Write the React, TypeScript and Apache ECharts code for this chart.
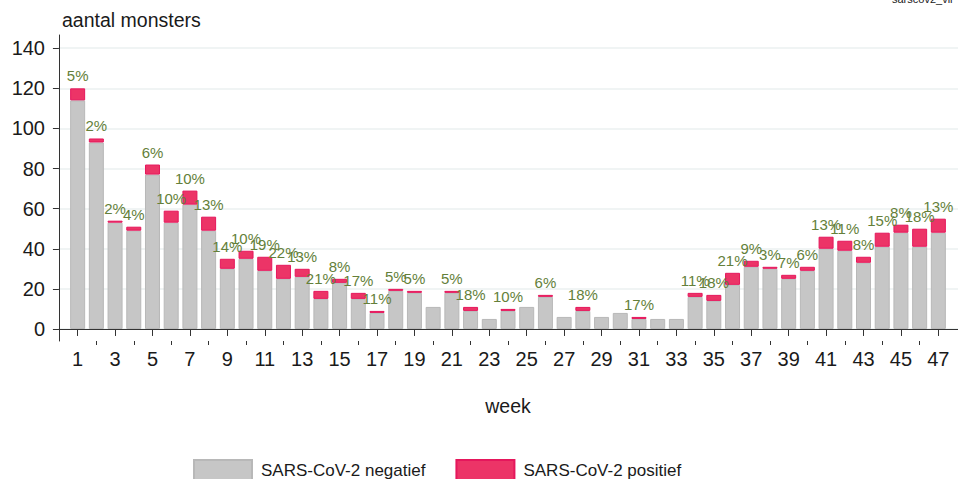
import React, { useEffect, useRef } from "react";
import * as echarts from "echarts";

const weeks = [1,2,3,4,5,6,7,8,9,10,11,12,13,14,15,16,17,18,19,20,21,22,23,24,25,26,27,28,29,30,31,32,33,34,35,36,37,38,39,40,41,42,43,44,45,46,47];
const negatief = [114,93,53,49,77,53,62,49,30,35,29,25,26,15,23,15,8,19,18,11,18,9,5,9,11,16,6,9,6,8,5,5,5,16,14,22,31,30,25,29,40,39,33,41,48,41,48];
const positief = [6,2,1,2,5,6,7,7,5,4,7,7,4,4,2,3,1,1,1,0,1,2,0,1,0,1,0,2,0,0,1,0,0,2,3,6,3,1,2,2,6,5,3,7,4,9,7];
const pctLabels: (number | null)[] = [5,2,2,4,6,10,10,13,14,10,19,22,13,21,8,17,11,5,5,null,5,18,null,10,null,6,null,18,null,null,17,null,null,11,18,21,9,3,7,6,13,11,8,15,8,18,13];
const yTicks = [0,20,40,60,80,100,120,140];
const xLabelTicks = weeks.filter((w) => w % 2 === 1);
const xMinorTicks = weeks.filter((w) => w % 2 === 0);

const FONT = "'Liberation Sans', Arial, sans-serif";

export default function App() {
  const ref = useRef<HTMLDivElement>(null);
  useEffect(() => {
    if (!ref.current) return;
    const chart = echarts.init(ref.current, null, { renderer: "svg" });
    // value first (y), week second (x) so that the stack is on y
    const negData = weeks.map((w, i) => [negatief[i], w]);
    const posData = weeks.map((w, i) =>
      positief[i] > 0
        ? { value: [positief[i], w], label: { show: pctLabels[i] != null, formatter: pctLabels[i] + "%" } }
        : { value: [0, w], itemStyle: { opacity: 0, borderWidth: 0 }, label: { show: false } }
    );
    chart.setOption({
      animation: false,
      textStyle: { fontFamily: FONT },
      title: {
        text: "aantal monsters",
        left: 62,
        top: 10,
        padding: 0,
        textStyle: { fontSize: 19.5, fontWeight: "normal", color: "#1a1a1a", fontFamily: FONT },
      },
      graphic: [
        {
          type: "text",
          x: 892,
          y: -1,
          style: { text: "sarscov2_vir", fontSize: 11, fill: "#222", font: "11px " + FONT, textVerticalAlign: "middle" },
        },
      ],
      legend: {
        left: 193,
        top: 459,
        padding: 0,
        icon: "rect",
        itemWidth: 58,
        itemHeight: 20,
        itemGap: 30,
        textStyle: { fontSize: 17, color: "#1a1a1a", fontFamily: FONT, padding: [0, 0, 0, 4] },
        data: ["SARS-CoV-2 negatief", "SARS-CoV-2 positief"],
      },
      grid: { left: 58, right: -4, top: 35, bottom: 138, containLabel: false },
      xAxis: [
        {
          type: "value",
          min: -0.05,
          max: 48.05,
          name: "week",
          nameLocation: "middle",
          nameGap: 55,
          nameTextStyle: { fontSize: 19.5, color: "#1a1a1a", fontFamily: FONT },
          axisLine: { show: true, lineStyle: { color: "#333", width: 1 } },
          axisTick: { show: true, length: 7, customValues: xLabelTicks, lineStyle: { color: "#333" } },
          axisLabel: { customValues: xLabelTicks, fontSize: 20, color: "#1a1a1a", margin: 8, fontFamily: FONT },
          splitLine: { show: false },
        },
        {
          type: "value",
          min: -0.05,
          max: 48.05,
          position: "bottom",
          axisLine: { show: false },
          axisTick: { show: true, length: 4, customValues: xMinorTicks, lineStyle: { color: "#333" } },
          axisLabel: { show: false },
          splitLine: { show: false },
        },
      ],
      yAxis: {
        type: "value",
        min: -6,
        max: 146.6,
        axisLine: { show: true, lineStyle: { color: "#333", width: 1 } },
        axisTick: { show: true, length: 6, customValues: yTicks, lineStyle: { color: "#333" } },
        axisLabel: { customValues: yTicks, fontSize: 20, color: "#1a1a1a", margin: 13, fontFamily: FONT },
        splitLine: { show: true, lineStyle: { color: "#EBF1F1", width: 1.5 } },
      },
      series: [
        {
          name: "SARS-CoV-2 negatief",
          type: "bar",
          stack: "a",
          barWidth: 15,
          encode: { x: 1, y: 0 },
          data: negData,
          itemStyle: { color: "#C6C6C6", borderColor: "#B8B8B8", borderWidth: 1 },
        },
        {
          name: "SARS-CoV-2 positief",
          type: "bar",
          stack: "a",
          barWidth: 15,
          encode: { x: 1, y: 0 },
          data: posData,
          itemStyle: { color: "#EC3467", borderColor: "#E5175C", borderWidth: 1 },
          label: {
            show: true,
            position: "top",
            distance: 5,
            fontSize: 15,
            color: "#647F3A",
            fontFamily: FONT,
          },
        },
      ],
    });
    return () => chart.dispose();
  }, []);
  return (
    <div
      ref={ref}
      style={{ position: "absolute", left: 0, top: 0, width: 958, height: 479, background: "#fff" }}
    />
  );
}
